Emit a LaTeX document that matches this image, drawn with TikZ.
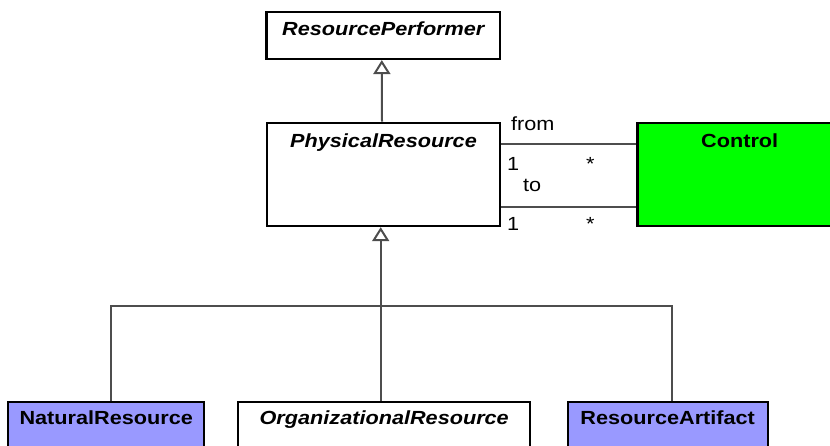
\documentclass[tikz,border=0pt]{standalone}
\usepackage{fontspec}
\newfontfamily\umlsans[FakeStretch=1.14]{Liberation Sans}
\usetikzlibrary{arrows.meta}
\definecolor{linegray}{HTML}{4D4D4D}
\definecolor{ctrlgreen}{HTML}{00FF00}
\definecolor{kindblue}{HTML}{9999FF}
\begin{document}
\begin{tikzpicture}[x=1pt,y=-1pt,
  every node/.style={font=\umlsans\fontsize{19}{22}\selectfont,inner sep=0pt},
  box/.style={draw=black,line width=2.2pt},
  abstract/.style={font=\umlsans\fontsize{19}{22}\selectfont\bfseries\itshape,anchor=base},
  concrete/.style={font=\umlsans\fontsize{19}{22}\selectfont\bfseries,anchor=base},
  role/.style={anchor=base west},
  link/.style={draw=linegray,line width=2pt},
  gen/.style={link,-{Triangle[open,length=14pt,width=17pt]}}]
\useasboundingbox (0,0) rectangle (830,446);
\clip (0,0) rectangle (830,446);
\node[box,minimum width=233.5pt,minimum height=47pt] (perf) at (383.3,35.5) {};
\node[box,minimum width=233pt,minimum height=103.3pt] (phys) at (383.5,174.4) {};
\node[box,fill=ctrlgreen,minimum width=204.5pt,minimum height=103.3pt] (ctrl) at (739.7,174.4) {};
\node[box,fill=kindblue,minimum width=195.7pt,minimum height=100pt] (nat) at (106.2,451.7) {};
\node[box,minimum width=291.7pt,minimum height=100pt] (org) at (384.2,451.7) {};
\node[box,fill=kindblue,minimum width=200pt,minimum height=100pt] (art) at (667.7,451.7) {};
\node[abstract] (perfName) at ([yshift=-25pt]perf.north) {ResourcePerformer};
\node[abstract] (physName) at ([yshift=-26.3pt]phys.north) {PhysicalResource};
\node[concrete] (ctrlName) at ([yshift=-26.3pt]ctrl.north) {Control};
\node[concrete] (natName) at ([yshift=-24pt]nat.north) {NaturalResource};
\node[abstract] (orgName) at ([yshift=-24pt]org.north) {OrganizationalResource};
\node[concrete] (artName) at ([yshift=-24pt]art.north) {ResourceArtifact};
\coordinate (bar) at (380.7,305.7);
\draw[gen] ([xshift=-1.5pt]phys.north) -- ([xshift=-1.5pt]perf.south);
\draw[gen] ([xshift=-3.5pt]org.north) -- ([xshift=-2.8pt]phys.south);
\draw[link] ([xshift=4.5pt]nat.north) |- (bar) -| ([xshift=4.3pt]art.north);
\draw[link] ([yshift=30.1pt]phys.east) -- ([yshift=30.1pt]ctrl.west)
  node[role,at start,xshift=9pt,yshift=13.3pt] (fromRole) {from}
  node[role,at start,xshift=5pt,yshift=-26.3pt] (fromOne) {1}
  node[role,at start,xshift=84pt,yshift=-26.3pt] (fromMany) {*};
\draw[link] ([yshift=-32.3pt]phys.east) -- ([yshift=-32.3pt]ctrl.west)
  node[role,at start,xshift=21pt,yshift=14.7pt] (toRole) {to}
  node[role,at start,xshift=5pt,yshift=-24pt] (toOne) {1}
  node[role,at start,xshift=84pt,yshift=-24pt] (toMany) {*};
\end{tikzpicture}
\end{document}
